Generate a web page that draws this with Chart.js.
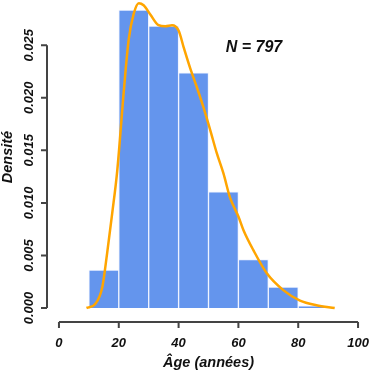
<!DOCTYPE html>
<html>
<head>
<meta charset="utf-8">
<title>Densité des âges</title>
<script src="https://cdn.jsdelivr.net/npm/chart.js"></script>
<style>
  body { margin: 0; background: #fff; }
</style>
</head>
<body>
<canvas id="myChart" width="373" height="371"></canvas>
<script>
// histogram bins (age, years) and densities
const binCenters = [15, 25, 35, 45, 55, 65, 75, 85];
const binDensity = [0.0036, 0.02835, 0.02683, 0.02238, 0.01105, 0.00461, 0.0020, 0.0002];

// kernel density curve
const curveAge = [9.2, 12.2, 14.5, 16.1, 17.8, 19.5, 21.7, 23.3, 25, 26.7, 28.3, 30.6, 33.3, 35.6, 37.8, 40,
                  41.7, 43.9, 46.1, 48.3, 50.6, 52.8, 55, 57.2, 60, 61.7, 65, 69.5, 75, 80.6, 86.1, 92.2];
const curveDensity = [0, 0.0004, 0.002, 0.0052, 0.009, 0.0131, 0.0207, 0.0255, 0.028, 0.029, 0.0288, 0.0279,
                      0.0269, 0.0268, 0.0269, 0.0264, 0.0248, 0.0228, 0.021, 0.0191, 0.0169, 0.0147, 0.0128,
                      0.0105, 0.0087, 0.0074, 0.0055, 0.0033, 0.0017, 0.0007, 0.00026, 0];

const xTicks = [0, 20, 40, 60, 80, 100];
const yTicks = [0, 0.005, 0.01, 0.015, 0.02, 0.025];
const yLabels = ['0.000', '0.005', '0.010', '0.015', '0.020', '0.025'];
const nLabel = 'N = 797';

const ink = '#111';
const labelFont = 'italic bold 13px "Liberation Sans", Arial, sans-serif';
const titleFont = 'italic bold 14.5px "Liberation Sans", Arial, sans-serif';

// R-style detached axes drawn from the scales
const rAxes = {
    id: 'rAxes',
    afterDraw(chart) {
        const c = chart.ctx;
        const xs = chart.scales.x, ys = chart.scales.y;
        const left = chart.chartArea.left, bottom = chart.chartArea.bottom;
        c.save();
        c.strokeStyle = '#444';
        c.lineWidth = 2;
        c.beginPath();
        c.moveTo(left, ys.getPixelForValue(0));
        c.lineTo(left, ys.getPixelForValue(0.025));
        yTicks.forEach(v => {
            const p = ys.getPixelForValue(v);
            c.moveTo(left, p); c.lineTo(left - 6, p);
        });
        c.moveTo(xs.getPixelForValue(0), bottom);
        c.lineTo(xs.getPixelForValue(100), bottom);
        xTicks.forEach(v => {
            const p = xs.getPixelForValue(v);
            c.moveTo(p, bottom); c.lineTo(p, bottom + 6);
        });
        c.stroke();

        c.fillStyle = ink;
        c.font = labelFont;
        c.textAlign = 'center';
        c.textBaseline = 'middle';
        xTicks.forEach(v => c.fillText(String(v), xs.getPixelForValue(v), bottom + 21));
        yTicks.forEach((v, i) => {
            c.save();
            c.translate(left - 18, ys.getPixelForValue(v));
            c.rotate(-Math.PI / 2);
            c.fillText(yLabels[i], 0, 0);
            c.restore();
        });

        c.font = titleFont;
        c.fillText('Âge (années)', xs.getPixelForValue(50), bottom + 41);
        c.save();
        c.translate(8, 157);
        c.rotate(-Math.PI / 2);
        c.fillText('Densité', 0, 0);
        c.restore();

        c.font = 'italic bold 16px "Liberation Sans", Arial, sans-serif';
        c.fillText(nLabel, xs.getPixelForValue(65.2), ys.getPixelForValue(0.0248));
        c.restore();
    }
};

const ctx = document.getElementById('myChart').getContext('2d');
const myChart = new Chart(ctx, {
    type: 'bar',
    data: {
        datasets: [{
            type: 'line',
            data: curveAge.map((a, i) => ({ x: a, y: curveDensity[i] })),
            borderColor: '#FFA500',
            borderWidth: 2.5,
            pointRadius: 0,
            cubicInterpolationMode: 'monotone',
            fill: false,
            order: 0
        }, {
            type: 'bar',
            data: binCenters.map((a, i) => ({ x: a, y: binDensity[i] })),
            backgroundColor: '#6495ED',
            borderColor: '#eef3ff',
            borderWidth: 1,
            barPercentage: 1,
            categoryPercentage: 1,
            order: 1
        }]
    },
    options: {
        responsive: false,
        animation: false,
        devicePixelRatio: 1,
        layout: { padding: { left: 47, right: 3, top: 0, bottom: 49 } },
        plugins: { legend: { display: false }, tooltip: { enabled: false } },
        scales: {
            x: { type: 'linear', min: -4, max: 104, display: false, offset: false },
            y: { type: 'linear', min: -0.00133, max: 0.0293, display: false }
        }
    },
    plugins: [rAxes]
});
</script>
</body>
</html>
